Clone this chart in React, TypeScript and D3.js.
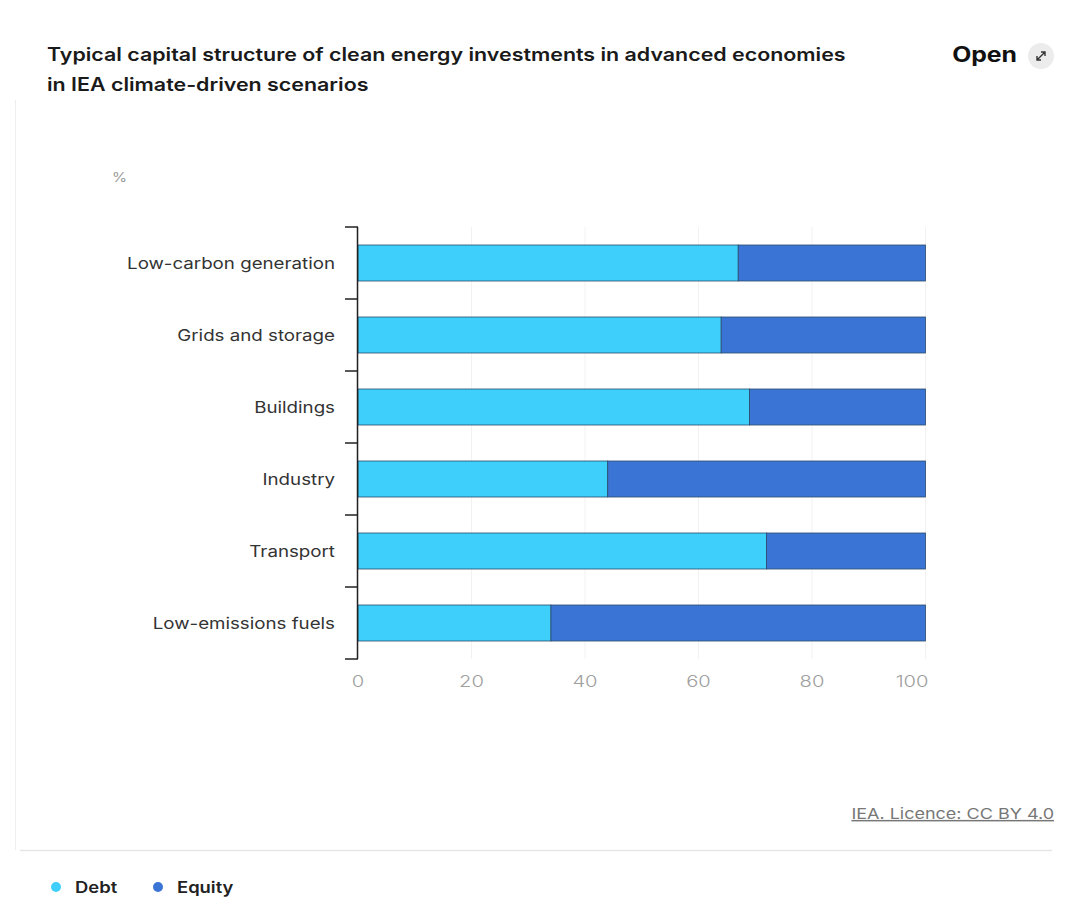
import React from "react";
import * as d3 from "d3";

const categories = [
  "Low-carbon generation",
  "Grids and storage",
  "Buildings",
  "Industry",
  "Transport",
  "Low-emissions fuels",
];
const debtValues = [67, 64, 69, 44, 72, 34];
const equityValues = [33, 36, 31, 56, 28, 66];
const xTicks = [0, 20, 40, 60, 80, 100];
const seriesNames = ["Debt", "Equity"];
const seriesColors = ["#3fcffb", "#3a74d4"];

const W = 1074;
const H = 915;
const FONT = "Inter, 'Noto Sans', sans-serif";

function SText(props: {
  x: number;
  y: number;
  sx: number;
  anchor?: "start" | "middle" | "end";
  children: React.ReactNode;
  [k: string]: any;
}) {
  const { x, y, sx, anchor, children, ...rest } = props;
  return (
    <g transform={`translate(${x},${y}) scale(${sx},1)`}>
      <text x={0} y={0} textAnchor={anchor || "start"} {...rest}>
        {children}
      </text>
    </g>
  );
}

export default function App() {
  const x = d3.scaleLinear().domain([0, 100]).range([358, 925.5]);
  const y = d3.scaleBand<string>().domain(categories).range([227, 659]).paddingInner(0.5).paddingOuter(0.25);
  const yTickPos = d3.range(categories.length + 1).map((i) => 227 + (i * (659 - 227)) / categories.length);
  const stacked = categories.map((c, i) => [
    { key: "Debt", x0: 0, x1: debtValues[i], color: seriesColors[0] },
    { key: "Equity", x0: debtValues[i], x1: debtValues[i] + equityValues[i], color: seriesColors[1] },
  ]);

  return (
    <svg width={W} height={H} style={{ position: "absolute", left: 0, top: 0, background: "#fff" }} fontFamily={FONT}>
      <rect x={0} y={0} width={W} height={H} fill="#fff" />
      {/* frame lines */}
      <line x1={15.5} x2={15.5} y1={100} y2={850} stroke="#eeeeee" />
      <line x1={20} x2={1052} y1={850.5} y2={850.5} stroke="#e6e6e6" strokeWidth={1.5} />

      {/* title */}
      <SText x={47} y={61} sx={1.19} fontSize={18} fontWeight={600} fill="#1a1a1a">
        Typical capital structure of clean energy investments in advanced economies
      </SText>
      <SText x={47} y={91} sx={1.19} fontSize={18} fontWeight={600} fill="#1a1a1a">
        in IEA climate-driven scenarios
      </SText>
      <SText x={1017} y={62} sx={1.18} anchor="end" fontSize={21} fontWeight={700} fill="#111">
        Open
      </SText>
      <circle cx={1041} cy={56} r={13} fill="#ececec" />
      <path d="M1037,60 L1045,52 M1041,52 L1045,52 L1045,56 M1037,56 L1037,60 L1041,60" stroke="#333" strokeWidth={1.4} fill="none" />

      {/* unit */}
      <SText x={112} y={182} sx={1.18} fontSize={13} fill="#999">%</SText>

      {/* gridlines */}
      {xTicks.map((t) => (
        <line key={"g" + t} x1={x(t)} x2={x(t)} y1={227} y2={659} stroke="#f2f2f2" />
      ))}

      {/* bars */}
      {categories.map((c, i) =>
        stacked[i].map((s) => (
          <rect
            key={c + s.key}
            x={x(s.x0)}
            y={y(c)!}
            width={x(s.x1) - x(s.x0)}
            height={y.bandwidth()}
            fill={s.color}
            stroke="#2a4d6e"
            strokeWidth={0.8}
          />
        ))
      )}

      {/* y axis */}
      <line x1={357.5} x2={357.5} y1={227} y2={659} stroke="#222" strokeWidth={1.5} />
      {yTickPos.map((p, i) => (
        <line key={"yt" + i} x1={345} x2={358} y1={p} y2={p} stroke="#222" strokeWidth={1.5} />
      ))}
      {categories.map((c) => (
        <SText key={"yl" + c} x={335} y={y(c)! + y.bandwidth() / 2 + 6} sx={1.17} anchor="end" fontSize={16} fill="#333">
          {c}
        </SText>
      ))}

      {/* x tick labels */}
      {xTicks.map((t, i) => (
        <SText
          key={"xl" + t}
          x={i === xTicks.length - 1 ? x(t) + 3 : x(t)}
          y={687}
          sx={1.3}
          fontSize={15.5}
          fontWeight={300}
          fill="#a0a0a0"
          anchor={i === xTicks.length - 1 ? "end" : "middle"}
        >
          {t}
        </SText>
      ))}

      {/* licence */}
      <SText x={1054} y={819} sx={1.2} anchor="end" fontSize={15} fill="#777" textDecoration="underline">
        IEA. Licence: CC BY 4.0
      </SText>

      {/* legend */}
      {seriesNames.map((n, i) => {
        const lx = i === 0 ? 56 : 158;
        return (
          <g key={"lg" + n}>
            <circle cx={lx} cy={887} r={5} fill={seriesColors[i]} />
            <SText x={lx + 19} y={893} sx={1.15} fontSize={16} fontWeight={600} fill="#222">{n}</SText>
          </g>
        );
      })}
    </svg>
  );
}
